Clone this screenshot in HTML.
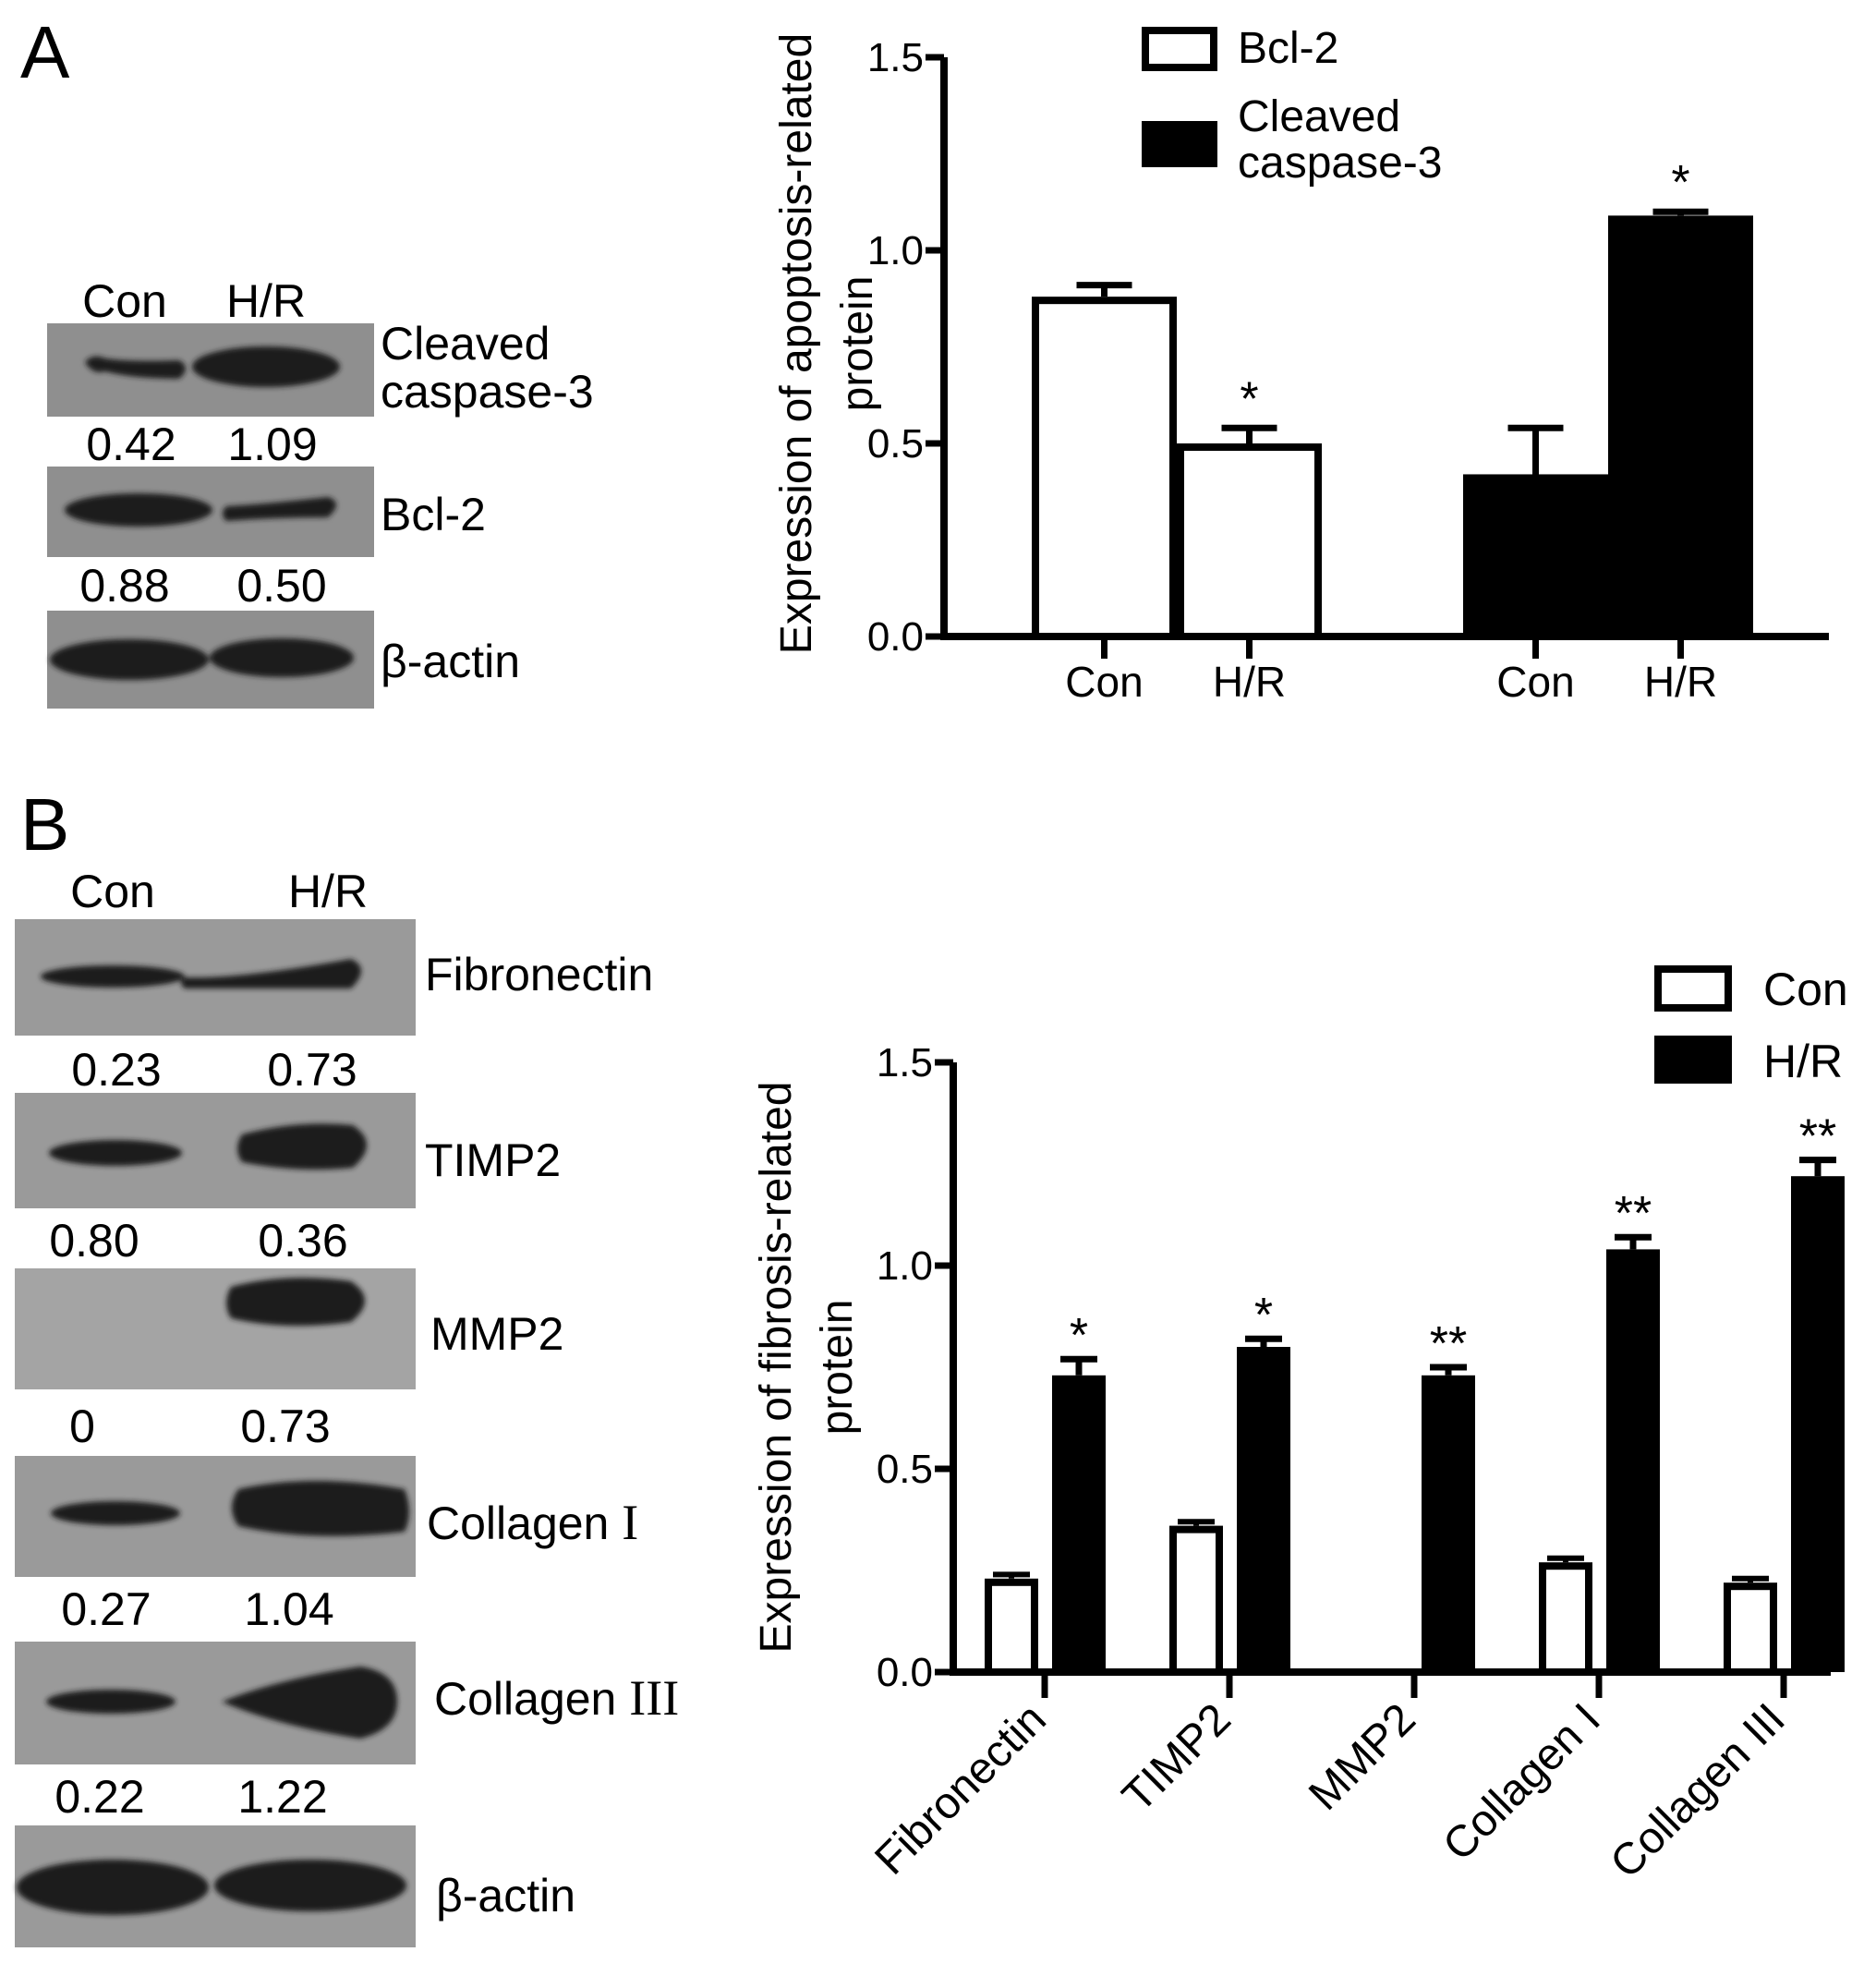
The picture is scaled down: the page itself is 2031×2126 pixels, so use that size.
<!DOCTYPE html>
<html><head><meta charset="utf-8"><style>
html,body{margin:0;padding:0;background:#fff}
svg{display:block}
text{font-family:"Liberation Sans",sans-serif;fill:#000}
.n{font-family:"Liberation Sans Narrow","Liberation Sans",sans-serif}
</style></head><body>
<svg id="fig" width="2031" height="2126" viewBox="0 0 2031 2126" xmlns="http://www.w3.org/2000/svg">
<defs><filter id="blur" x="-20%" y="-50%" width="140%" height="200%"><feGaussianBlur stdDeviation="3"/></filter></defs>
<text x="22" y="84" font-size="80">A</text>
<text x="22" y="920" font-size="80">B</text>
<!-- Panel A blots -->
<g font-size="50">
<text x="135" y="343" text-anchor="middle">Con</text>
<text x="288" y="343" text-anchor="middle">H/R</text>
<rect x="51" y="350" width="354" height="101" fill="#8f8f8f"/>
<g filter="url(#blur)" fill="#1c1c1c">
<path d="M92 392 q8 -10 22 -4 q30 4 80 2 q14 8 0 20 q-50 0 -80 -8 q-14 4 -22 -10z"/>
<ellipse cx="288" cy="397" rx="80" ry="22"/>
</g>
<text x="142" y="498" text-anchor="middle">0.42</text>
<text x="295" y="498" text-anchor="middle">1.09</text>
<rect x="51" y="505" width="354" height="98" fill="#8f8f8f"/>
<g filter="url(#blur)" fill="#1c1c1c">
<ellipse cx="150" cy="552" rx="80" ry="18"/>
<path d="M245 548 q40 -2 110 -10 q18 6 0 22 q-60 0 -110 4 q-8 -8 0 -16z"/>
</g>
<text x="135" y="651" text-anchor="middle">0.88</text>
<text x="305" y="651" text-anchor="middle">0.50</text>
<rect x="51" y="661" width="354" height="106" fill="#8f8f8f"/>
<g filter="url(#blur)" fill="#1c1c1c">
<ellipse cx="140" cy="714" rx="86" ry="22"/>
<ellipse cx="305" cy="712" rx="78" ry="21"/>
</g>
<text x="412" y="389">Cleaved</text>
<text x="412" y="441">caspase-3</text>
<text x="412" y="574">Bcl-2</text>
<text x="412" y="733">β-actin</text>
</g>
<!-- Panel B blots -->
<g font-size="50">
<text x="122" y="982" text-anchor="middle">Con</text>
<text x="355" y="982" text-anchor="middle">H/R</text>
<rect x="16" y="995" width="434" height="126" fill="#9a9a9a"/>
<rect x="16" y="1183" width="434" height="125" fill="#9a9a9a"/>
<rect x="16" y="1373" width="434" height="131" fill="#a4a4a4"/>
<rect x="16" y="1576" width="434" height="131" fill="#9a9a9a"/>
<rect x="16" y="1777" width="434" height="133" fill="#9a9a9a"/>
<rect x="16" y="1976" width="434" height="132" fill="#9a9a9a"/>
<g filter="url(#blur)" fill="#1c1c1c">
<ellipse cx="122" cy="1057" rx="78" ry="12"/>
<path d="M200 1058 q60 2 180 -20 q22 10 0 32 q-100 0 -180 0 q-8 -6 0 -12z"/>
<ellipse cx="125" cy="1248" rx="72" ry="14"/>
<path d="M262 1228 q60 -16 120 -10 q30 20 0 46 q-60 6 -120 -6 q-10 -14 0 -30z"/>
<path d="M250 1393 q60 -16 130 -6 q30 20 0 44 q-70 10 -130 -4 q-10 -16 0 -34z"/>
<ellipse cx="125" cy="1638" rx="70" ry="13"/>
<path d="M258 1612 q80 -18 180 0 q10 26 0 46 q-100 12 -180 -6 q-14 -20 0 -40z"/>
<ellipse cx="120" cy="1842" rx="70" ry="13"/>
<path d="M240 1842 q60 -24 150 -38 q40 6 40 38 q0 30 -40 40 q-90 -14 -150 -40z"/>
<ellipse cx="122" cy="2043" rx="104" ry="30"/>
<ellipse cx="336" cy="2041" rx="104" ry="28"/>
</g>
<text x="126" y="1175" text-anchor="middle">0.23</text>
<text x="338" y="1175" text-anchor="middle">0.73</text>
<text x="102" y="1360" text-anchor="middle">0.80</text>
<text x="328" y="1360" text-anchor="middle">0.36</text>
<text x="89" y="1561" text-anchor="middle">0</text>
<text x="309" y="1561" text-anchor="middle">0.73</text>
<text x="115" y="1759" text-anchor="middle">0.27</text>
<text x="313" y="1759" text-anchor="middle">1.04</text>
<text x="108" y="1962" text-anchor="middle">0.22</text>
<text x="306" y="1962" text-anchor="middle">1.22</text>
<text x="460" y="1072">Fibronectin</text>
<text x="460" y="1273">TIMP2</text>
<text x="466" y="1461">MMP2</text>
<text x="462" y="1666">Collagen <tspan font-family="Liberation Serif" font-size="54">I</tspan></text>
<text x="470" y="1856">Collagen <tspan font-family="Liberation Serif" font-size="54">III</tspan></text>
<text x="472" y="2069">β-actin</text>
</g>
<g id="chartA"></g>
<g id="chartB"></g>
</svg>
<script>
// Chart A data
const aGroups = ["Bcl-2", "Cleaved caspase-3"];
const aCats = ["Con", "H/R"];
const aBcl2 = [0.88, 0.50];
const aBcl2Err = [0.03, 0.04];
const aCasp = [0.42, 1.09];
const aCaspErr = [0.12, 0.01];
const aBcl2Stars = ["", "*"];
const aStars = ["", "*"];
const aTicks = ["0.0", "0.5", "1.0", "1.5"];
// Chart B data
const bCats = ["Fibronectin", "TIMP2", "MMP2", "Collagen I", "Collagen III"];
const bCon = [0.23, 0.36, 0, 0.27, 0.22];
const bConErr = [0.01, 0.01, 0, 0.01, 0.01];
const bHR = [0.73, 0.80, 0.73, 1.04, 1.22];
const bHRErr = [0.04, 0.02, 0.02, 0.03, 0.04];
const bStars = ["*", "*", "**", "**", "**"];
const bTicks = ["0.0", "0.5", "1.0", "1.5"];

const NS = "http://www.w3.org/2000/svg";
function mk(parent, tag, attrs, txt){
  const e = document.createElementNS(NS, tag);
  for (const k in attrs) e.setAttribute(k, attrs[k]);
  if (txt !== undefined) e.textContent = txt;
  parent.appendChild(e); return e;
}
// ---- Chart A ----
(function(){
  const g = document.getElementById('chartA');
  const X0 = 1022, Y0 = 689, Y15 = 62, XR = 1980;
  const y = v => Y0 - (v / 1.5) * (Y0 - Y15);
  const barW = 157;
  const groupStart = [1117, 1584];
  const series = [[aBcl2, aBcl2Err, aBcl2Stars], [aCasp, aCaspErr, aStars]];
  series.forEach((s, gi) => {
    s[0].forEach((v, i) => {
      const x = groupStart[gi] + i * barW;
      const cx = x + barW / 2;
      const eTop = y(v + s[1][i]);
      const eb = mk(g, 'path', {d:`M${cx} ${y(v)} V${eTop} M${cx-30} ${eTop} H${cx+30}`, stroke:'#000', 'stroke-width':7, fill:'none'});
      
      
      const r = mk(g, 'rect', {x: gi===0 ? x+4 : x, y: y(v) + (gi===0?4:0), width: gi===0? barW-8 : barW, height: Y0 - y(v) - (gi===0?4:0), fill: gi===0?'#fff':'#000', stroke: gi===0?'#000':'none', 'stroke-width':8});
      
      
      if (s[2][i]) {
        const st = mk(g, 'text', {x: cx, y: eTop - 14, 'text-anchor':'middle', 'font-size':52}, s[2][i]);
        
        
      }
      const tk = mk(g, 'line', {x1:cx, x2:cx, y1:Y0, y2:Y0+24, stroke:'#000', 'stroke-width':7});
      
      
      const tl = mk(g, 'text', {x:cx, y:754, 'text-anchor':'middle', 'font-size':46, class:'n'}, aCats[i]);
      
      
    });
  });
  const ax = mk(g, 'path', {d:`M${X0} ${Y15} V${Y0} H${XR}`, stroke:'#000', 'stroke-width':8, fill:'none'});
  
  
  aTicks.forEach(t => {
    const yy = y(parseFloat(t));
    const tk = mk(g, 'line', {x1:X0-20, x2:X0, y1:yy, y2:yy, stroke:'#000', 'stroke-width':7});
    
    
    const tl = mk(g, 'text', {x:X0-22, y:yy+15, 'text-anchor':'end', 'font-size':44, class:'n'}, t);
    
    
  });
  const t1 = mk(g, 'text', {transform:'translate(878 372) rotate(-90)', 'text-anchor':'middle', 'font-size':48}, 'Expression of apoptosis-related');
  
  
  const t2 = mk(g, 'text', {transform:'translate(944 372) rotate(-90)', 'text-anchor':'middle', 'font-size':48}, 'protein');
  
  
  const l1 = mk(g, 'rect', {x:1240, y:33, width:74, height:40, fill:'#fff', stroke:'#000', 'stroke-width':8});
  
  
  const l1t = mk(g, 'text', {x:1340, y:68, 'font-size':48, class:'n'}, aGroups[0]);
  
  
  const l2 = mk(g, 'rect', {x:1236, y:131, width:82, height:50, fill:'#000'});
  
  
  const l2t = mk(g, 'text', {x:1340, y:142, 'font-size':48, class:'n'}, 'Cleaved');
  
  
  const l3t = mk(g, 'text', {x:1340, y:192, 'font-size':48, class:'n'}, 'caspase-3');
  
  
})();
// ---- Chart B ----
(function(){
  const g = document.getElementById('chartB');
  const X0 = 1032, Y0 = 1810, Y15 = 1150, XR = 1982;
  const y = v => Y0 - (v / 1.5) * (Y0 - Y15);
  const x = i => 1131 + i * 200;
  bCats.forEach((c, i) => {
    const cc = x(i) - 36, ch = x(i) + 37;
    if (bCon[i] > 0) {
      const et = y(bCon[i] + bConErr[i]);
      const eb = mk(g, 'path', {d:`M${cc} ${y(bCon[i])} V${et} M${cc-20} ${et} H${cc+20}`, stroke:'#000', 'stroke-width':6, fill:'none'});
      
      
      const r = mk(g, 'rect', {x:cc-25, y:y(bCon[i])+4, width:50, height:Y0-y(bCon[i])-4, fill:'#fff', stroke:'#000', 'stroke-width':8});
      
      
    }
    const et = y(bHR[i] + bHRErr[i]);
    const eb2 = mk(g, 'path', {d:`M${ch} ${y(bHR[i])} V${et} M${ch-20} ${et} H${ch+20}`, stroke:'#000', 'stroke-width':7, fill:'none'});
    
    
    const r2 = mk(g, 'rect', {x:ch-29, y:y(bHR[i]), width:58, height:Y0-y(bHR[i]), fill:'#000'});
    
    
    const st = mk(g, 'text', {x:ch, y:et - 8, 'text-anchor':'middle', 'font-size':52}, bStars[i]);
    
    
    const tk = mk(g, 'line', {x1:x(i), x2:x(i), y1:Y0, y2:Y0+28, stroke:'#000', 'stroke-width':7});
    
    
    const tl = mk(g, 'text', {transform:`translate(${x(i)+4} ${Y0+54}) rotate(-45)`, 'text-anchor':'end', 'font-size':48, class:'n'}, c);
    
    
  });
  const ax = mk(g, 'path', {d:`M${X0} ${Y15} V${Y0} H${XR}`, stroke:'#000', 'stroke-width':8, fill:'none'});
  
  
  bTicks.forEach(t => {
    const yy = y(parseFloat(t));
    const tk = mk(g, 'line', {x1:X0-20, x2:X0, y1:yy, y2:yy, stroke:'#000', 'stroke-width':7});
    
    
    const tl = mk(g, 'text', {x:X0-22, y:yy+15, 'text-anchor':'end', 'font-size':44, class:'n'}, t);
    
    
  });
  const t1 = mk(g, 'text', {transform:'translate(856 1480) rotate(-90)', 'text-anchor':'middle', 'font-size':48}, 'Expression of  fibrosis-related');
  
  
  const t2 = mk(g, 'text', {transform:'translate(922 1480) rotate(-90)', 'text-anchor':'middle', 'font-size':48}, 'protein');
  
  
  const l1 = mk(g, 'rect', {x:1795, y:1049, width:76, height:42, fill:'#fff', stroke:'#000', 'stroke-width':8});
  
  
  const l1t = mk(g, 'text', {x:1909, y:1088, 'font-size':50, class:'n'}, 'Con');
  
  
  const l2 = mk(g, 'rect', {x:1791, y:1121, width:84, height:52, fill:'#000'});
  
  
  const l2t = mk(g, 'text', {x:1909, y:1166, 'font-size':50, class:'n'}, 'H/R');
  
  
})();
</script>
</body></html>
